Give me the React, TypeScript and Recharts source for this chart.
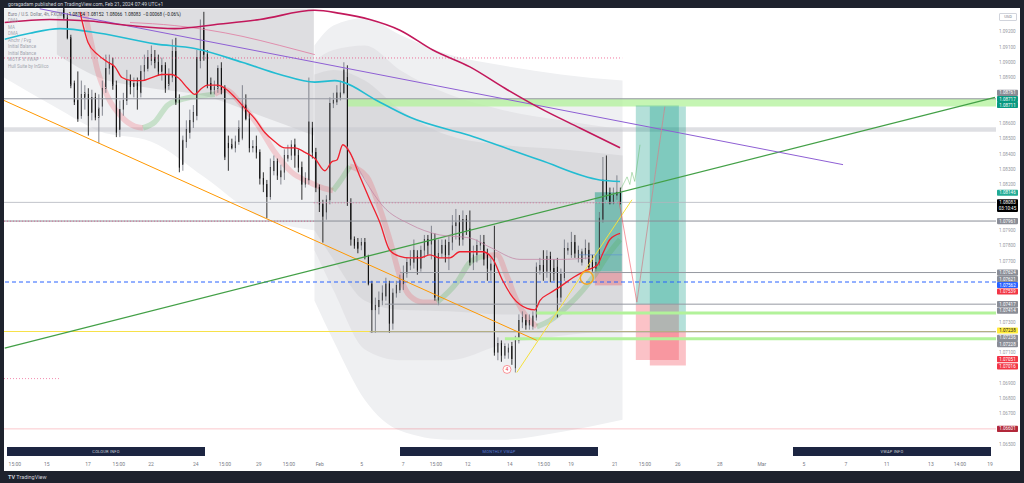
import React from 'react';
import {
  ComposedChart, Bar, Line, Area, XAxis, YAxis,
  ReferenceLine, ReferenceArea, ReferenceDot,
} from 'recharts';

// EURUSD 4h candles, oldest first
const candleOpen = [
  1.0935, 1.0929, 1.0916, 1.0886, 1.0875, 1.0865, 1.0877, 1.0879, 1.0867, 1.0877,
  1.0864, 1.0871, 1.0883, 1.0896, 1.0898, 1.0885, 1.0856, 1.0869, 1.0875, 1.0888,
  1.0884, 1.0886, 1.0880, 1.0894, 1.0896, 1.0901, 1.0903, 1.0900, 1.0894, 1.0898,
  1.0885, 1.0890, 1.0907, 1.0875, 1.0833, 1.0848, 1.0854, 1.0861, 1.0865, 1.0901,
  1.0922, 1.0905, 1.0886, 1.0882, 1.0883, 1.0896, 1.0883, 1.0847, 1.0846, 1.0844,
  1.0848, 1.0850, 1.0872, 1.0863, 1.0844, 1.0845, 1.0841, 1.0824, 1.0820, 1.0812,
  1.0829, 1.0835, 1.0825, 1.0828, 1.0837, 1.0839, 1.0846, 1.0839, 1.0831, 1.0820,
  1.0823, 1.0857, 1.0841, 1.0818, 1.0807, 1.0802, 1.0810, 1.0873, 1.0874, 1.0877,
  1.0880, 1.0890, 1.0808, 1.0784, 1.0782, 1.0780, 1.0782, 1.0773, 1.0755, 1.0738,
  1.0740, 1.0744, 1.0747, 1.0755, 1.0729, 1.0749, 1.0751, 1.0755, 1.0762, 1.0767,
  1.0769, 1.0773, 1.0765, 1.0777, 1.0784, 1.0781, 1.0784, 1.0744, 1.0775, 1.0780,
  1.0774, 1.0782, 1.0793, 1.0795, 1.0784, 1.0797, 1.0791, 1.0769, 1.0774, 1.0780,
  1.0782, 1.0775, 1.0764, 1.0767, 1.0710, 1.0716, 1.0708, 1.0710, 1.0714, 1.0700,
  1.0718, 1.0730, 1.0731, 1.0728, 1.0727, 1.0733, 1.0764, 1.0767, 1.0763, 1.0773,
  1.0765, 1.0766, 1.0746, 1.0759, 1.0777, 1.0774, 1.0782, 1.0772, 1.0769, 1.0774,
  1.0777, 1.0769, 1.0765, 1.0769, 1.0797, 1.0823, 1.0814, 1.0808, 1.0813, 1.0815,
];
const candleHigh = [
  1.0937, 1.0932, 1.0918, 1.0888, 1.0894, 1.0888, 1.0885, 1.0883, 1.0882, 1.0880,
  1.0879, 1.0888, 1.0905, 1.0905, 1.0903, 1.0888, 1.0875, 1.0880, 1.0895, 1.0892,
  1.0890, 1.0890, 1.0898, 1.0905, 1.0908, 1.0911, 1.0908, 1.0905, 1.0903, 1.0900,
  1.0896, 1.0915, 1.0916, 1.0879, 1.0852, 1.0862, 1.0869, 1.0872, 1.0908, 1.0928,
  1.0933, 1.0908, 1.0890, 1.0888, 1.0898, 1.0900, 1.0885, 1.0852, 1.0850, 1.0852,
  1.0862, 1.0885, 1.0879, 1.0867, 1.0849, 1.0852, 1.0843, 1.0828, 1.0823, 1.0837,
  1.0839, 1.0837, 1.0833, 1.0843, 1.0846, 1.0849, 1.0850, 1.0843, 1.0835, 1.0828,
  1.0890, 1.0861, 1.0844, 1.0820, 1.0810, 1.0813, 1.0877, 1.0880, 1.0885, 1.0888,
  1.0900, 1.0898, 1.0811, 1.0786, 1.0785, 1.0785, 1.0785, 1.0774, 1.0757, 1.0746,
  1.0750, 1.0754, 1.0759, 1.0757, 1.0752, 1.0757, 1.0761, 1.0767, 1.0772, 1.0777,
  1.0784, 1.0777, 1.0780, 1.0787, 1.0787, 1.0793, 1.0788, 1.0784, 1.0784, 1.0784,
  1.0787, 1.0800, 1.0804, 1.0800, 1.0803, 1.0800, 1.0803, 1.0780, 1.0784, 1.0787,
  1.0787, 1.0778, 1.0772, 1.0793, 1.0720, 1.0718, 1.0716, 1.0716, 1.0717, 1.0721,
  1.0735, 1.0737, 1.0735, 1.0735, 1.0737, 1.0769, 1.0772, 1.0777, 1.0777, 1.0776,
  1.0771, 1.0772, 1.0765, 1.0784, 1.0782, 1.0789, 1.0787, 1.0780, 1.0778, 1.0784,
  1.0782, 1.0774, 1.0774, 1.0802, 1.0838, 1.0839, 1.0818, 1.0818, 1.0826, 1.0818,
];
const candleLow = [
  1.0928, 1.0915, 1.0883, 1.0872, 1.0861, 1.0863, 1.0869, 1.0852, 1.0862, 1.0862,
  1.0847, 1.0865, 1.0880, 1.0892, 1.0882, 1.0851, 1.0851, 1.0865, 1.0872, 1.0879,
  1.0877, 1.0869, 1.0877, 1.0888, 1.0894, 1.0898, 1.0896, 1.0891, 1.0888, 1.0880,
  1.0882, 1.0887, 1.0872, 1.0828, 1.0829, 1.0844, 1.0850, 1.0857, 1.0862, 1.0896,
  1.0901, 1.0883, 1.0879, 1.0879, 1.0880, 1.0879, 1.0836, 1.0829, 1.0843, 1.0841,
  1.0846, 1.0849, 1.0862, 1.0841, 1.0841, 1.0837, 1.0820, 1.0815, 1.0798, 1.0810,
  1.0826, 1.0823, 1.0820, 1.0823, 1.0835, 1.0836, 1.0831, 1.0828, 1.0810, 1.0818,
  1.0820, 1.0837, 1.0815, 1.0802, 1.0782, 1.0797, 1.0807, 1.0870, 1.0872, 1.0875,
  1.0879, 1.0806, 1.0780, 1.0778, 1.0775, 1.0777, 1.0771, 1.0754, 1.0723, 1.0723,
  1.0735, 1.0741, 1.0744, 1.0723, 1.0725, 1.0746, 1.0749, 1.0751, 1.0759, 1.0764,
  1.0765, 1.0761, 1.0763, 1.0772, 1.0774, 1.0771, 1.0744, 1.0741, 1.0772, 1.0769,
  1.0764, 1.0777, 1.0784, 1.0780, 1.0780, 1.0787, 1.0767, 1.0764, 1.0769, 1.0777,
  1.0767, 1.0757, 1.0757, 1.0708, 1.0705, 1.0704, 1.0706, 1.0706, 1.0702, 1.0697,
  1.0716, 1.0726, 1.0725, 1.0725, 1.0725, 1.0731, 1.0761, 1.0757, 1.0759, 1.0756,
  1.0757, 1.0733, 1.0743, 1.0757, 1.0774, 1.0772, 1.0772, 1.0769, 1.0767, 1.0771,
  1.0764, 1.0763, 1.0763, 1.0767, 1.0795, 1.0810, 1.0807, 1.0807, 1.0810, 1.0807,
];
const candleClose = [
  1.0929, 1.0916, 1.0885, 1.0874, 1.0863, 1.0879, 1.0880, 1.0865, 1.0877, 1.0864,
  1.0870, 1.0883, 1.0896, 1.0900, 1.0885, 1.0854, 1.0869, 1.0875, 1.0888, 1.0884,
  1.0886, 1.0882, 1.0894, 1.0898, 1.0903, 1.0905, 1.0900, 1.0894, 1.0898, 1.0883,
  1.0892, 1.0907, 1.0874, 1.0831, 1.0849, 1.0856, 1.0862, 1.0867, 1.0903, 1.0907,
  1.0905, 1.0885, 1.0882, 1.0884, 1.0896, 1.0882, 1.0838, 1.0844, 1.0844, 1.0848,
  1.0857, 1.0872, 1.0863, 1.0844, 1.0845, 1.0841, 1.0824, 1.0820, 1.0812, 1.0831,
  1.0835, 1.0826, 1.0829, 1.0839, 1.0839, 1.0846, 1.0839, 1.0831, 1.0820, 1.0824,
  1.0861, 1.0841, 1.0818, 1.0807, 1.0799, 1.0810, 1.0873, 1.0875, 1.0880, 1.0880,
  1.0895, 1.0808, 1.0784, 1.0780, 1.0778, 1.0782, 1.0773, 1.0755, 1.0738, 1.0741,
  1.0744, 1.0749, 1.0755, 1.0729, 1.0749, 1.0754, 1.0757, 1.0762, 1.0769, 1.0771,
  1.0777, 1.0764, 1.0777, 1.0784, 1.0780, 1.0788, 1.0746, 1.0775, 1.0780, 1.0774,
  1.0782, 1.0793, 1.0795, 1.0784, 1.0797, 1.0790, 1.0769, 1.0774, 1.0780, 1.0782,
  1.0771, 1.0765, 1.0768, 1.0710, 1.0716, 1.0708, 1.0714, 1.0713, 1.0706, 1.0718,
  1.0731, 1.0733, 1.0728, 1.0731, 1.0734, 1.0766, 1.0767, 1.0763, 1.0773, 1.0764,
  1.0762, 1.0746, 1.0761, 1.0778, 1.0778, 1.0782, 1.0775, 1.0777, 1.0776, 1.0778,
  1.0766, 1.0765, 1.0769, 1.0798, 1.0823, 1.0814, 1.0808, 1.0813, 1.0815, 1.0808,
];

// indicators, sampled at bar positions
const emaIdx = [4.6, 6.9, 9.7, 12.6, 14.6, 16.6, 19.4, 22.3, 25.1, 28, 30.9, 32.6, 35.4, 37.4, 39.4, 41.1, 44, 46, 48.9, 51.7,
  54.6, 57.4, 60.3, 63.1, 66, 68.9, 71.7, 74.6, 76.6, 78, 79.7, 81.7, 84.6, 87.4, 90.3, 93.1, 96, 98.9, 101.7, 104.6,
  107.4, 110.3, 113.1, 116.9, 119.7, 122.6, 125.4, 128.3, 132.3, 134.6, 136, 138.9, 141.7, 145.4, 149.4, 152.3, 154, 156, 158.9];
const emaVal = [1.0933, 1.0913, 1.0905, 1.0900, 1.0897, 1.0890, 1.0888, 1.0888, 1.0890, 1.0892, 1.0892, 1.0890, 1.0883, 1.0879, 1.0883, 1.0885, 1.0885, 1.0883, 1.0877, 1.0870,
  1.0863, 1.0854, 1.0848, 1.0844, 1.0844, 1.0841, 1.0837, 1.0829, 1.0835, 1.0836, 1.0846, 1.0841, 1.0825, 1.0810, 1.0795, 1.0777, 1.0773, 1.0772, 1.0772, 1.0774,
  1.0772, 1.0772, 1.0776, 1.0776, 1.0776, 1.0771, 1.0757, 1.0746, 1.0739, 1.0738, 1.0744, 1.0749, 1.0753, 1.0759, 1.0764, 1.0767, 1.0775, 1.0784, 1.0788];

const cyanIdx = [-16.9, -9.7, -1.1, 10.3, 26, 37.4, 50.9, 61.7, 71.7, 77.4, 79.7, 89.4, 98.9, 116, 136, 153.1, 158.9];
const cyanVal = [1.0915, 1.0919, 1.0922, 1.0919, 1.0912, 1.0909, 1.0900, 1.0892, 1.0887, 1.0888, 1.0887, 1.0875, 1.0864, 1.0852, 1.0836, 1.0823, 1.0822];

const dmaIdx = [-16.9, -4, 7.4, 18.9, 31.7, 44.6, 56, 71.7, 78.9, 87.4, 96, 105.4, 116, 126, 136, 147.4, 158.9];
const dmaVal = [1.0926, 1.0928, 1.0927, 1.0924, 1.0922, 1.0925, 1.0928, 1.0934, 1.0932, 1.0928, 1.0921, 1.0908, 1.0897, 1.0883, 1.0870, 1.0857, 1.0844];

const maAIdx = [18.9, 31.7, 50.9, 61.7, 71.7];
const maAVal = [1.0926, 1.0924, 1.0917, 1.0911, 1.0905];
const maBIdx = [80.9, 86, 91.1, 98.9, 107.4, 116, 121.7, 130.3, 141.7, 150.3];
const maBVal = [1.0845, 1.0823, 1.0806, 1.0794, 1.0787, 1.0785, 1.0779, 1.0771, 1.0771, 1.0772];

const hullIdx = [6, 8, 9.7, 12.6, 16.6, 20.3, 22.6, 26, 29.7, 32.6, 36, 39.4, 43.1, 46, 50.9, 55.4, 60.3, 65.1, 69.7, 73.7, 76.9, 78.9,
  81.7, 86.6, 89.4, 93.1, 96, 98.9, 102.6, 106.6, 112.3, 116, 119.7, 123.7, 126.6, 129.4, 132.3, 135.1, 138.9, 143.7, 148.3, 151.1, 155.1, 158.9];
const hullVal = [1.0933, 1.0911, 1.0894, 1.0877, 1.0864, 1.0858, 1.0857, 1.0861, 1.0872, 1.0875, 1.0877, 1.0878, 1.0879, 1.0882, 1.0872, 1.0859, 1.0841, 1.0828, 1.0822, 1.0818, 1.0816, 1.0822,
  1.0832, 1.0825, 1.0810, 1.0784, 1.0760, 1.0747, 1.0743, 1.0743, 1.0756, 1.0769, 1.0773, 1.0774, 1.0760, 1.0744, 1.0733, 1.0727, 1.0731, 1.0740, 1.0751, 1.0759, 1.0773, 1.0784];
const hullDir = 'rrrrrrggggggrrrrrrrrggrrrrrrrgggrrrrrggggggg';

// VWAP deviation bands: [lower, upper]
const bandAIdx = [-17.1, -2, 10, 25, 40, 55, 71.4];
const bandALightLo = [1.0890, 1.0870, 1.0855, 1.0848, 1.0825, 1.0800, 1.0790];
const bandADarkIdx = [-2, 10, 25, 40, 55, 71.4];
const bandADarkLo = [1.0905, 1.0890, 1.0883, 1.0878, 1.0866, 1.0852];
const bandTop = 1.0935;
const bandBIdx = [71.6, 77, 86, 96, 110, 125, 142, 159.6];
const bandBOuterHi = [1.0911, 1.0924, 1.0929, 1.0918, 1.0905, 1.0898, 1.0892, 1.0888];
const bandBOuterLo = [1.0744, 1.0718, 1.0679, 1.0659, 1.0653, 1.0653, 1.0658, 1.0666];
const bandBMidHi = [1.0901, 1.0908, 1.0911, 1.0895, 1.0879, 1.0869, 1.0862, 1.0856];
const bandBMidLo = [1.0777, 1.0751, 1.0712, 1.0705, 1.0705, 1.0715, 1.0721, 1.0725];
const bandBInnerHi = [1.0892, 1.0895, 1.0888, 1.0869, 1.0852, 1.0846, 1.0843, 1.0839];
const bandBInnerLo = [1.0790, 1.0771, 1.0744, 1.0738, 1.0737, 1.0735, 1.0735, 1.0737];

// projection zigzag
const zigIdx = [158.9, 160.9, 161.7, 162.3, 163.1, 164.6];
const zigVal = [1.0816, 1.0825, 1.0820, 1.0828, 1.0822, 1.0846];

// long / short position tools
const posX1 = [151.7, 163.4, 167.4];
const posX2 = [159.4, 175.7, 177.7];
const posTarget = [1.0815, 1.08717, 1.08711];
const posEntry = [1.0763, 1.07417, 1.07236];
const posStop = [1.0754, 1.07051, 1.07016];

// price scale tags
const tagPrice = [1.08761, 1.08717, 1.08711, 1.08146, 1.08083, 1.07961, 1.07624, 1.07621, 1.07562, 1.07539,
  1.07417, 1.07414, 1.07238, 1.07236, 1.07228, 1.07051, 1.07016, 1.06601];
const tagBg = ['#8a8d96', '#089981', '#089981', '#22ab94', '#000000', '#8a8d96', '#8a8d96', '#8a8d96', '#2962ff', '#f23645',
  '#8a8d96', '#8a8d96', '#ffeb3b', '#8a8d96', '#8a8d96', '#f23645', '#f23645', '#b2283a'];
const tagNudge = [-6, -6.5, -1.5, 0, 0, 0, 0, 6, 3, 6, 0, 6, -1, 6, 11, -1, 1, 0];

const allYTicks = [1.065, 1.066, 1.067, 1.068, 1.069, 1.07, 1.071, 1.072, 1.073, 1.074, 1.075, 1.076, 1.077, 1.078,
  1.079, 1.08, 1.081, 1.082, 1.083, 1.084, 1.085, 1.086, 1.087, 1.088, 1.089, 1.09, 1.091, 1.092];
// the price scale hides a tick label when a tag sits on top of it
const yTicks = allYTicks.filter((t) => !tagPrice.some((p) => Math.abs(p - t) < 0.0004));
const tickIdx = [-14, -4.9, 6.9, 15.7, 24.9, 37.7, 46, 55.7, 64.3, 73.1, 85.1, 96.9, 106.3, 115.4, 127.4, 137.1, 144.9,
  157.4, 166, 175.4, 187.4, 199.4, 211.4, 223.4, 235.1, 247.7, 256, 264.6];
const tickText = ['15:00', '15', '17', '15:00', '22', '24', '15:00', '29', '15:00', 'Feb', '5', '7', '15:00', '12', '14', '15:00', '19',
  '21', '15:00', '26', '28', 'Mar', '5', '7', '11', '13', '14:00', '19'];

const legendRows = ['DMA', 'MA', 'DMA', 'Anchr / Fvg', 'Initial Balance', 'Initial Balance', 'MOTIF X VWAP', 'Hull Suite by InSilico'];

const candles = candleOpen.map((o, k) => ({ i: k, o, h: candleHigh[k], l: candleLow[k], c: candleClose[k] }));
const pts = (xs: number[], vs: (number | null)[]) => xs.map((x, k) => ({ i: x, v: vs[k] }));
const band = (xs: number[], lo: number[], hi: number[]) => xs.map((x, k) => ({ i: x, r: [lo[k], hi[k]] }));
const hullPart = (d: string) =>
  pts(hullIdx, hullVal.map((v, k) => (hullDir[k] === d || (k > 0 && hullDir[k - 1] === d) ? v : null)));

const W = 1016;
const H = 463;
const X0 = -17.1;
const X1 = 266.3;

function Candle(props: any) {
  const { x, y, width, height, payload } = props;
  const top = Math.min(y, y + height);
  const hgt = Math.abs(height);
  const { o, h, l, c } = payload;
  const span = h - l || 1e-9;
  const yo = top + ((h - o) / span) * hgt;
  const yc = top + ((h - c) / span) * hgt;
  const up = c >= o;
  const cx = x + width / 2;
  return (
    <g>
      <line x1={cx} x2={cx} y1={top} y2={top + hgt} stroke={up ? '#6a6d78' : '#000'} strokeWidth={0.8} />
      <rect x={x} y={Math.min(yo, yc)} width={width} height={Math.max(Math.abs(yc - yo), 0.8)}
        fill={up ? '#fff' : '#000'} stroke="#000" strokeWidth={0.6} />
    </g>
  );
}

function PriceTag(props: any) {
  const { viewBox, bg, text, nudge, sub } = props;
  if (!viewBox) return null;
  const x = viewBox.x + viewBox.width + 1;
  const y = viewBox.y + nudge - 3.1;
  const fg = bg === '#ffeb3b' ? '#131722' : '#fff';
  return (
    <g>
      <rect x={x} y={y} width={21} height={sub ? 12.6 : 6.2} rx={0.8} fill={bg} />
      <text x={x + 10.5} y={y + 4.7} textAnchor="middle" fontSize={4.5} fill={fg}>{text}</text>
      {sub && <text x={x + 10.5} y={y + 10.8} textAnchor="middle" fontSize={4.5} fill={fg}>{sub}</text>}
    </g>
  );
}

const navy = '#1c2541';
const boxStyle = (left: number): React.CSSProperties => ({
  position: 'absolute', left, top: 439, width: 198, height: 9, background: navy,
  color: '#d1d4dc', fontSize: 4, lineHeight: '9px', textAlign: 'center', letterSpacing: 0.2,
});

export default function App() {
  return (
    <div style={{ position: 'fixed', left: 0, top: 0, width: 1024, height: 483, background: '#1e222d', overflow: 'hidden', fontFamily: 'Roboto, "Liberation Sans", sans-serif' }}>
      <div style={{ position: 'absolute', left: 8, top: 1, fontSize: 5, color: '#d1d4dc', whiteSpace: 'nowrap' }}>
        goragadam published on TradingView.com, Feb 21, 2024 07:49 UTC+1
      </div>
      <div style={{ position: 'absolute', left: 4, top: 8, width: W, height: H, background: '#fff', overflow: 'hidden' }}>
        <ComposedChart width={W} height={H} data={candles} margin={{ top: 0, right: 0, bottom: 0, left: 0 }}>
          <XAxis dataKey="i" type="number" domain={[X0, X1]} allowDataOverflow ticks={tickIdx} interval={0}
            tickFormatter={(v: number) => tickText[tickIdx.indexOf(v)] ?? ''} axisLine={false} tickLine={false}
            tickMargin={1} height={16} tick={{ fontSize: 5, fill: '#787b86' }} />
          <YAxis orientation="right" domain={[1.0643, 1.09355]} allowDataOverflow ticks={yTicks} interval={0}
            tickFormatter={(v: number) => v.toFixed(5)} axisLine={false} tickLine={false} tickSize={0} tickMargin={3}
            width={24} tick={{ fontSize: 4.6, fill: '#9598a1' }} />

          <Area data={band(bandAIdx, bandALightLo, bandAIdx.map(() => bandTop))} dataKey="r" type="monotone" stroke="none" fill="#f0f1f3" fillOpacity={1} isAnimationActive={false} />
          <Area data={band(bandADarkIdx, bandADarkLo, bandADarkIdx.map(() => bandTop))} dataKey="r" type="monotone" stroke="none" fill="#dedee1" fillOpacity={1} isAnimationActive={false} />
          <Area data={band(bandBIdx, bandBOuterLo, bandBOuterHi)} dataKey="r" type="monotone" stroke="none" fill="#eff0f2" fillOpacity={1} isAnimationActive={false} />
          <Area data={band(bandBIdx, bandBMidLo, bandBMidHi)} dataKey="r" type="monotone" stroke="none" fill="#e5e5e8" fillOpacity={1} isAnimationActive={false} />
          <Area data={band(bandBIdx, bandBInnerLo, bandBInnerHi)} dataKey="r" type="monotone" stroke="none" fill="#dadadd" fillOpacity={1} isAnimationActive={false} />

          <ReferenceArea x1={81.1} x2={X1} y1={1.08711} y2={1.08761} fill="#b2f29a" fillOpacity={0.75} stroke="none" ifOverflow="visible" />
          <ReferenceArea x1={X0} x2={X1} y1={1.08545} y2={1.08575} fill="#c8cad0" fillOpacity={0.6} stroke="none" ifOverflow="visible" />
          {posX1.map((x1, k) => (
            <React.Fragment key={`pos${k}`}>
              <ReferenceArea x1={x1} x2={posX2[k]} y1={posEntry[k]} y2={posTarget[k]} fill="#089981" fillOpacity={k === 0 ? 0.45 : 0.3} stroke="none" ifOverflow="visible" />
              <ReferenceArea x1={x1} x2={posX2[k]} y1={posStop[k]} y2={posEntry[k]} fill="#f23645" fillOpacity={0.3} stroke="none" ifOverflow="visible" />
            </React.Fragment>
          ))}

          <ReferenceLine y={1.08761} stroke="#9598a1" strokeWidth={1} />
          <ReferenceLine y={1.08083} stroke="#b2b5be" strokeWidth={0.8} />
          <ReferenceLine y={1.07961} stroke="#8a8d96" strokeWidth={1} />
          <ReferenceLine y={1.07562} stroke="#2962ff" strokeDasharray="4 3" strokeWidth={1} />
          <ReferenceLine y={1.07238} stroke="#f7e14a" strokeWidth={1.2} />
          <ReferenceLine y={1.06601} stroke="#f23645" strokeOpacity={0.35} strokeWidth={0.8} />
          <ReferenceLine segment={[{ x: X0, y: 1.09028 }, { x: 159.5, y: 1.09028 }]} stroke="#e91e63" strokeOpacity={0.6} strokeDasharray="1 2" ifOverflow="visible" />
          <ReferenceLine segment={[{ x: X0, y: 1.0796 }, { x: 71.4, y: 1.0796 }]} stroke="#e91e63" strokeOpacity={0.5} strokeDasharray="1 2" ifOverflow="visible" />
          <ReferenceLine segment={[{ x: 71.4, y: 1.0808 }, { x: 159.5, y: 1.0808 }]} stroke="#e91e63" strokeOpacity={0.5} strokeDasharray="1 2" ifOverflow="visible" />
          <ReferenceLine segment={[{ x: X0, y: 1.0693 }, { x: -1, y: 1.0693 }]} stroke="#e91e63" strokeOpacity={0.5} strokeDasharray="1 2" ifOverflow="visible" />
          <ReferenceLine segment={[{ x: 96, y: 1.07624 }, { x: X1, y: 1.07624 }]} stroke="#9598a1" ifOverflow="visible" />
          <ReferenceLine segment={[{ x: 91.7, y: 1.07417 }, { x: X1, y: 1.07417 }]} stroke="#9598a1" ifOverflow="visible" />
          <ReferenceLine segment={[{ x: 87.4, y: 1.07236 }, { x: X1, y: 1.07236 }]} stroke="#9598a1" ifOverflow="visible" />
          <ReferenceLine segment={[{ x: 135, y: 1.0736 }, { x: X1, y: 1.0736 }]} stroke="#b2f29a" strokeWidth={3} ifOverflow="visible" />
          <ReferenceLine segment={[{ x: 126, y: 1.0719 }, { x: X1, y: 1.0719 }]} stroke="#b2f29a" strokeWidth={3} ifOverflow="visible" />
          <ReferenceLine segment={[{ x: 147, y: 1.0774 }, { x: 159.5, y: 1.0774 }]} stroke="#5b8fd5" strokeOpacity={0.6} ifOverflow="visible" />

          <ReferenceLine segment={[{ x: X0, y: 1.0875 }, { x: 135.1, y: 1.0718 }]} stroke="#ff9800" strokeWidth={1} ifOverflow="visible" />
          <ReferenceLine segment={[{ x: -16.9, y: 1.0713 }, { x: 266, y: 1.0877 }]} stroke="#43a047" strokeWidth={1.3} ifOverflow="visible" />
          <ReferenceLine segment={[{ x: -6.9, y: 1.0935 }, { x: 222.6, y: 1.0833 }]} stroke="#8e5fd4" strokeWidth={1} ifOverflow="visible" />
          <ReferenceLine segment={[{ x: 129.4, y: 1.0697 }, { x: 162.3, y: 1.0810 }]} stroke="#f5e13c" strokeWidth={1} ifOverflow="visible" />
          <ReferenceLine segment={[{ x: 158.6, y: 1.0809 }, { x: 163.7, y: 1.0743 }]} stroke="#f23645" strokeOpacity={0.5} ifOverflow="visible" />
          <ReferenceLine segment={[{ x: 163.7, y: 1.0743 }, { x: 171.7, y: 1.0871 }]} stroke="#c98a90" strokeOpacity={0.8} ifOverflow="visible" />

          <Line data={hullPart('r')} dataKey="v" type="monotone" stroke="#f23645" strokeOpacity={0.2} strokeWidth={5.5} dot={false} connectNulls={false} isAnimationActive={false} zIndex={250} />
          <Line data={hullPart('g')} dataKey="v" type="monotone" stroke="#4caf50" strokeOpacity={0.25} strokeWidth={5.5} dot={false} connectNulls={false} isAnimationActive={false} zIndex={250} />

          <Bar dataKey={(d: any) => [d.l, d.h]} barSize={2.6} shape={<Candle />} isAnimationActive={false} />

          <Line data={pts(maAIdx, maAVal)} dataKey="v" type="monotone" stroke="#e07aa0" strokeWidth={0.8} dot={false} isAnimationActive={false} />
          <Line data={pts(maBIdx, maBVal)} dataKey="v" type="monotone" stroke="#c48aa8" strokeWidth={0.8} dot={false} isAnimationActive={false} />
          <Line data={pts(dmaIdx, dmaVal)} dataKey="v" type="monotone" stroke="#c2185b" strokeWidth={1.6} dot={false} isAnimationActive={false} />
          <Line data={pts(cyanIdx, cyanVal)} dataKey="v" type="monotone" stroke="#22bcd2" strokeWidth={1.6} dot={false} isAnimationActive={false} />
          <Line data={pts(emaIdx, emaVal)} dataKey="v" type="monotone" stroke="#f0202e" strokeWidth={1.3} dot={false} isAnimationActive={false} />
          <Line data={pts(zigIdx, zigVal)} dataKey="v" type="linear" stroke="#4caf50" strokeOpacity={0.5} strokeWidth={0.8} dot={false} isAnimationActive={false} />

          <ReferenceDot x={149.4} y={1.0759} r={6.5} fill="none" stroke="#f5a623" strokeWidth={1.4} ifOverflow="visible" zIndex={1500} />
          <ReferenceDot x={126.6} y={1.0699} r={4} fill="#fff" stroke="#f77c80" strokeWidth={0.8} ifOverflow="visible"
            label={{ value: '4', position: 'center', fontSize: 5, fill: '#f23645' }} />

          {tagPrice.map((p, k) => (
            <ReferenceLine key={`tag${k}`} y={p} stroke="none" ifOverflow="visible"
              label={<PriceTag bg={tagBg[k]} nudge={tagNudge[k]} text={p.toFixed(5)} sub={k === 4 ? '03:10:45' : undefined} />} />
          ))}
        </ComposedChart>

        <div style={{ position: 'absolute', left: 995, top: 5, width: 16, height: 6, border: '0.5px solid #d1d4dc', borderRadius: 1, fontSize: 4, lineHeight: '6px', textAlign: 'center', color: '#787b86', background: '#fff' }}>USD</div>

        <div style={{ position: 'absolute', left: 4, top: 4, fontSize: 4.5, color: '#787b86', whiteSpace: 'nowrap', lineHeight: '6px' }}>
          Euro / U.S. Dollar, 4h, FXCM
          <span style={{ marginLeft: 6, color: '#131722' }}>1.08154 &nbsp;1.08152 &nbsp;1.08066 &nbsp;1.08083 &nbsp;−0.00068 (−0.06%)</span>
        </div>
        {legendRows.map((t, k) => (
          <div key={t + k} style={{ position: 'absolute', left: 4, top: 10 + k * 6.5, fontSize: 4.5, color: '#a3a6af', whiteSpace: 'nowrap', lineHeight: '6px' }}>{t}</div>
        ))}

        <div style={boxStyle(3)}>COLOUR INFO</div>
        <div style={{ ...boxStyle(396), color: '#5b7cd6' }}>MONTHLY VWAP</div>
        <div style={boxStyle(789)}>VWAP INFO</div>
      </div>
      <div style={{ position: 'absolute', left: 8, top: 474, fontSize: 5.5, color: '#d1d4dc', whiteSpace: 'nowrap' }}>
        <b>TV</b> TradingView
      </div>
    </div>
  );
}
